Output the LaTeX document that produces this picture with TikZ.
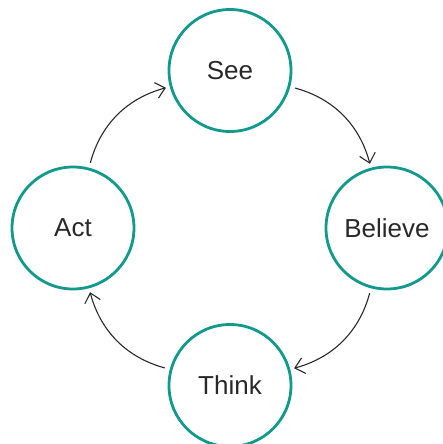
\documentclass[tikz,border=0pt]{standalone}
\usepackage{fontspec}
\setmainfont{Liberation Sans}
\usetikzlibrary{arrows.meta}
\definecolor{teal}{RGB}{17,153,140}
\definecolor{ink}{RGB}{40,40,40}
\begin{document}
\begin{tikzpicture}[x=1pt,y=-1pt,
    stage/.style={circle,draw=teal,line width=2.8pt,minimum size=122pt,inner sep=0pt,
      text=ink,font=\fontsize{26}{30}\selectfont},
    cyc/.style={draw=ink,line width=1.1pt,-{Straight Barb[length=9pt,width=16pt]},
      bend left=30,shorten <=5pt,shorten >=4pt}]
    \useasboundingbox (0,0) rectangle (443,444);
    \node[stage] (see) at (230,70.5) {See};
    \node[stage] (believe) at (387,228) {Believe};
    \node[stage] (think) at (230,385.5) {Think};
    \node[stage] (act) at (73,228) {Act};
    \draw[cyc] (see) to (believe);
    \draw[cyc] (believe) to (think);
    \draw[cyc] (think) to (act);
    \draw[cyc] (act) to (see);
\end{tikzpicture}
\end{document}
